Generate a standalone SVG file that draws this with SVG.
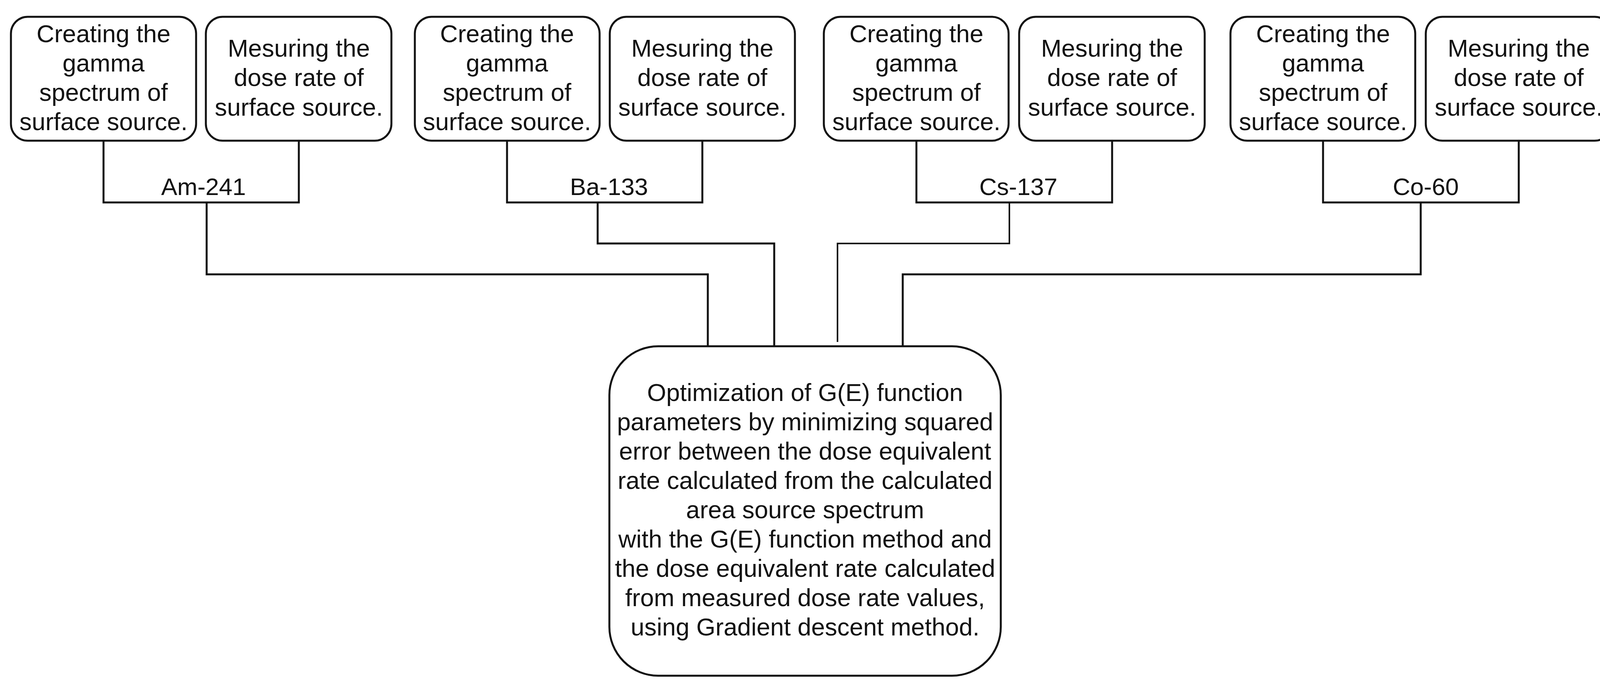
<svg xmlns="http://www.w3.org/2000/svg" width="4166" height="1763" viewBox="0 0 4166 1763">
<style>
.box{fill:#fff;stroke:#111;stroke-width:5}
.t{font-family:"Liberation Sans",Arial,Helvetica,sans-serif;font-size:63px;fill:#111;text-anchor:middle}
.l{font-size:62px}
.c{fill:none;stroke:#111;stroke-width:5;stroke-linejoin:miter;stroke-linecap:butt}
</style>
<rect width="4166" height="1763" fill="#fff"/>
<g id="connectors">
<path class="c" d="M265,360 V518 H765 V360"/>
<path class="c" d="M529,518 V702 H1812 V886"/>
<path class="c" d="M1298,360 V518 H1798 V360"/>
<path class="c" d="M1530,518 V623 H1982 V886"/>
<path class="c" d="M2346,360 V518 H2847 V360"/>
<path class="c" d="M2584,518 V623 H2144 V875" style="stroke-width:4"/>
<path class="c" d="M3387,360 V518 H3888 V360"/>
<path class="c" d="M3637,518 V702 H2311 V886"/>
<text class="t l" x="521" y="499">Am-241</text>
<text class="t l" x="1559" y="499">Ba-133</text>
<text class="t l" x="2607" y="499">Cs-137</text>
<text class="t l" x="3650" y="499">Co-60</text>
</g>
<g id="am-gamma">
<rect class="box" x="28" y="43" width="474" height="317" rx="43"/>
<text class="t" x="265"><tspan x="265" y="108">Creating the</tspan><tspan x="265" y="183">gamma</tspan><tspan x="265" y="258">spectrum of</tspan><tspan x="265" y="333">surface source.</tspan></text>
</g>
<g id="am-dose">
<rect class="box" x="527" y="43" width="475" height="317" rx="43"/>
<text class="t" x="765"><tspan x="765" y="145">Mesuring the</tspan><tspan x="765" y="220">dose rate of</tspan><tspan x="765" y="296">surface source.</tspan></text>
</g>
<g id="ba-gamma">
<rect class="box" x="1062" y="43" width="473" height="317" rx="43"/>
<text class="t" x="1298"><tspan x="1298" y="108">Creating the</tspan><tspan x="1298" y="183">gamma</tspan><tspan x="1298" y="258">spectrum of</tspan><tspan x="1298" y="333">surface source.</tspan></text>
</g>
<g id="ba-dose">
<rect class="box" x="1561" y="43" width="474" height="317" rx="43"/>
<text class="t" x="1798"><tspan x="1798" y="145">Mesuring the</tspan><tspan x="1798" y="220">dose rate of</tspan><tspan x="1798" y="296">surface source.</tspan></text>
</g>
<g id="cs-gamma">
<rect class="box" x="2109" y="43" width="473" height="317" rx="43"/>
<text class="t" x="2346"><tspan x="2346" y="108">Creating the</tspan><tspan x="2346" y="183">gamma</tspan><tspan x="2346" y="258">spectrum of</tspan><tspan x="2346" y="333">surface source.</tspan></text>
</g>
<g id="cs-dose">
<rect class="box" x="2609" y="43" width="475" height="317" rx="43"/>
<text class="t" x="2847"><tspan x="2847" y="145">Mesuring the</tspan><tspan x="2847" y="220">dose rate of</tspan><tspan x="2847" y="296">surface source.</tspan></text>
</g>
<g id="co-gamma">
<rect class="box" x="3150" y="43" width="473" height="317" rx="43"/>
<text class="t" x="3387"><tspan x="3387" y="108">Creating the</tspan><tspan x="3387" y="183">gamma</tspan><tspan x="3387" y="258">spectrum of</tspan><tspan x="3387" y="333">surface source.</tspan></text>
</g>
<g id="co-dose">
<rect class="box" x="3650" y="43" width="475" height="317" rx="43"/>
<text class="t" x="3888"><tspan x="3888" y="145">Mesuring the</tspan><tspan x="3888" y="220">dose rate of</tspan><tspan x="3888" y="296">surface source.</tspan></text>
</g>
<g id="optimization">
<rect class="box" x="1560" y="886" width="1002" height="843" rx="125"/>
<text class="t" x="2061"><tspan x="2061" y="1026">Optimization of G(E) function</tspan><tspan x="2061" y="1101">parameters by minimizing squared</tspan><tspan x="2061" y="1176">error between the dose equivalent</tspan><tspan x="2061" y="1251">rate calculated from the calculated</tspan><tspan x="2061" y="1326">area source spectrum</tspan><tspan x="2061" y="1401">with the G(E) function method and</tspan><tspan x="2061" y="1476">the dose equivalent rate calculated</tspan><tspan x="2061" y="1551">from measured dose rate values,</tspan><tspan x="2061" y="1626">using Gradient descent method.</tspan></text>
</g>
</svg>
